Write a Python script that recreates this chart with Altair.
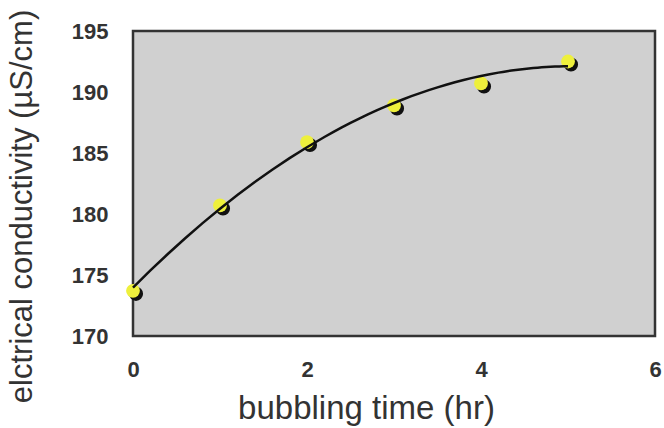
import altair as alt
import pandas as pd

hours = [0, 1, 2, 3, 4, 5]
conductivity = [173.7, 180.7, 185.9, 188.9, 190.7, 192.5]
x_ticks = [0, 2, 4, 6]
y_ticks = [170, 175, 180, 185, 190, 195]

df = pd.DataFrame({"hours": hours, "conductivity": conductivity})

FONT = "Liberation Sans"

x_enc = alt.X(
    "hours:Q",
    scale=alt.Scale(domain=[0, 6], nice=False, zero=False),
    axis=alt.Axis(
        values=x_ticks,
        title="bubbling time (hr)",
        ticks=False,
        domain=False,
        grid=False,
        labelFlush=False,
        labelPadding=23,
        labelFont=FONT,
        labelFontWeight="bold",
        labelFontSize=22,
        labelColor="#333333",
        titleFont=FONT,
        titleFontWeight="normal",
        titleFontSize=33,
        titleColor="#333333",
        titleX=233,
        titleY=82,
        titleBaseline="alphabetic",
        titleAnchor="middle",
        titleAlign="center",
    ),
)
y_enc = alt.Y(
    "conductivity:Q",
    scale=alt.Scale(domain=[170, 195], nice=False, zero=False),
    axis=alt.Axis(
        values=y_ticks,
        title="elctrical conductivity (µS/cm)",
        ticks=False,
        domain=False,
        grid=False,
        labelFlush=False,
        labelPadding=25,
        labelFont=FONT,
        labelFontWeight="bold",
        labelFontSize=22,
        labelColor="#333333",
        titleFont=FONT,
        titleFontWeight="normal",
        titleFontSize=31,
        titleColor="#333333",
        titleX=-111,
        titleY=175,
        titleAngle=-90,
        titleBaseline="middle",
        titleAlign="center",
    ),
)

base = alt.Chart(df)

shadow = base.mark_circle(color="#111111", opacity=1, size=200, xOffset=3, yOffset=3).encode(
    x=x_enc, y=y_enc
)
dots = base.mark_circle(color="#eef03c", opacity=1, size=190).encode(x=x_enc, y=y_enc)
fit = (
    base.transform_regression(
        "hours", "conductivity", method="poly", order=2, extent=[0, 5]
    )
    .mark_line(color="#111111", strokeWidth=2.5)
    .encode(x=x_enc, y=y_enc)
)

chart = (
    alt.layer(shadow, dots, fit)
    .properties(
        width=522,
        height=305,
        autosize=alt.AutoSizeParams(type="none"),
        padding={"left": 133, "top": 31, "right": 9, "bottom": 92},
        background="white",
    )
    .configure_view(fill="#d0d0d0", stroke="#333333", strokeWidth=2.5)
)

chart.save("out.html", embed_options={"renderer": "svg", "actions": False})
